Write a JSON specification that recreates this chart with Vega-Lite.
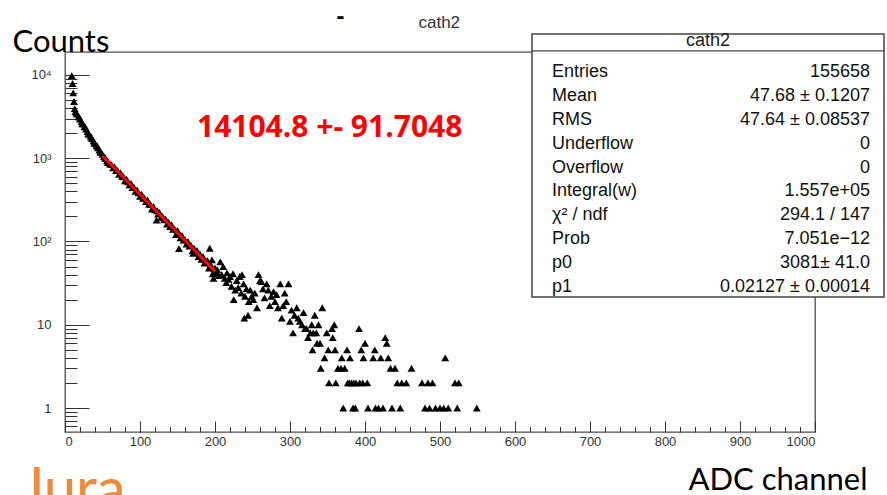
{
  "$schema": "https://vega.github.io/schema/vega-lite/v6.json",
  "width": 750,
  "height": 380,
  "autosize": {"type": "none"},
  "padding": {"left": 65, "top": 52, "right": 72, "bottom": 63},
  "background": "white",
  "config": {"font": "Liberation Sans", "view": {"stroke": "#4d4d4d", "strokeWidth": 1.3}},
  "datasets": {
    "h": [
      {"x":9,"y":9800},{"x":10,"y":7900},{"x":11,"y":6100},{"x":12,"y":4800},{"x":13,"y":3950},{"x":14,"y":3650},{"x":15,"y":3500},
      {"x":16,"y":3390},{"x":18,"y":3160},{"x":19,"y":3120},{"x":20,"y":2950},{"x":22,"y":2750},{"x":23,"y":2600},{"x":24,"y":2570},{"x":26,"y":2400},
      {"x":27,"y":2380},{"x":28,"y":2240},{"x":30,"y":2090},{"x":31,"y":1960},{"x":32,"y":1950},{"x":34,"y":1840},{"x":35,"y":1800},{"x":36,"y":1720},
      {"x":38,"y":1620},{"x":39,"y":1530},{"x":40,"y":1510},{"x":42,"y":1430},{"x":43,"y":1400},{"x":44,"y":1330},{"x":46,"y":1260},{"x":47,"y":1190},
      {"x":48,"y":1175},{"x":50,"y":1110},{"x":52,"y":1047},{"x":53,"y":1030},{"x":54,"y":990},{"x":56,"y":933},{"x":57,"y":895},{"x":58,"y":891},{"x":60,"y":851},
      {"x":62,"y":840},{"x":64,"y":766},{"x":66,"y":787},{"x":68,"y":711},{"x":70,"y":716},{"x":72,"y":639},{"x":74,"y":671},{"x":76,"y":606},
      {"x":78,"y":599},{"x":80,"y":534},{"x":82,"y":561},{"x":84,"y":521},{"x":86,"y":480},{"x":88,"y":498},{"x":90,"y":445},{"x":92,"y":448},
      {"x":94,"y":400},{"x":96,"y":416},{"x":98,"y":383},{"x":100,"y":349},{"x":102,"y":370},{"x":104,"y":330},{"x":106,"y":333},{"x":108,"y":301},
      {"x":110,"y":315},{"x":112,"y":282},{"x":114,"y":278},{"x":116,"y":245},{"x":118,"y":263},{"x":120,"y":240},{"x":122,"y":181},{"x":123,"y":234},
      {"x":124,"y":213},{"x":126,"y":224},{"x":128,"y":194},{"x":130,"y":200},{"x":132,"y":182},{"x":134,"y":187},{"x":136,"y":162},{"x":138,"y":171},
      {"x":140,"y":151},{"x":142,"y":159},{"x":144,"y":140},{"x":146,"y":142},{"x":148,"y":121},{"x":150,"y":136},{"x":152,"y":82},{"x":153,"y":121},
      {"x":154,"y":111},{"x":156,"y":118},{"x":158,"y":104},{"x":160,"y":105},{"x":162,"y":93},{"x":164,"y":100},{"x":166,"y":88},{"x":168,"y":90},
      {"x":170,"y":77},{"x":171,"y":72},{"x":172,"y":83},{"x":174,"y":74},{"x":176,"y":78},{"x":178,"y":66},{"x":180,"y":71},{"x":182,"y":61},
      {"x":184,"y":66},{"x":186,"y":55},{"x":188,"y":58},{"x":190,"y":59},{"x":192,"y":48},{"x":193,"y":83},{"x":194,"y":53},{"x":196,"y":60},
      {"x":197,"y":41},{"x":198,"y":36},{"x":199,"y":47},
      {"x":200,"y":48},{"x":201,"y":42},{"x":203,"y":46},{"x":205,"y":39},{"x":207,"y":57},{"x":209,"y":40},{"x":211,"y":50},{"x":213,"y":36},
      {"x":215,"y":32},{"x":216,"y":42},{"x":218,"y":35},{"x":220,"y":38},{"x":222,"y":29},{"x":224,"y":41},{"x":225,"y":20},{"x":227,"y":26},
      {"x":229,"y":34},{"x":231,"y":28},{"x":233,"y":38},{"x":235,"y":24},{"x":236,"y":40},{"x":238,"y":31},{"x":239,"y":12},{"x":240,"y":22},
      {"x":242,"y":27},{"x":244,"y":13},{"x":245,"y":19},{"x":247,"y":26},{"x":249,"y":22},{"x":251,"y":20},{"x":253,"y":24},{"x":256,"y":16},
      {"x":258,"y":40},{"x":260,"y":34},{"x":262,"y":33},{"x":264,"y":27},{"x":266,"y":21},{"x":269,"y":31},{"x":271,"y":26},{"x":273,"y":17},
      {"x":275,"y":22},{"x":278,"y":25},{"x":280,"y":19},{"x":282,"y":23},{"x":284,"y":16},{"x":287,"y":31},{"x":289,"y":12},{"x":291,"y":17},
      {"x":293,"y":24},{"x":295,"y":19},{"x":298,"y":31},{"x":300,"y":11},{"x":302,"y":15},{"x":304,"y":8},{"x":306,"y":13},{"x":309,"y":16},
      {"x":311,"y":12},{"x":313,"y":11},{"x":316,"y":10},{"x":318,"y":14},{"x":320,"y":9},{"x":322,"y":9},{"x":324,"y":7},{"x":327,"y":8},
      {"x":329,"y":10},{"x":330,"y":5},{"x":331,"y":8},{"x":333,"y":13},{"x":335,"y":8},{"x":336,"y":6},{"x":338,"y":10},{"x":340,"y":6},
      {"x":341,"y":3},{"x":343,"y":16},{"x":346,"y":4},{"x":349,"y":8},{"x":351,"y":5},{"x":352,"y":2},{"x":356,"y":9},{"x":357,"y":7},
      {"x":359,"y":10},{"x":360,"y":5},{"x":361,"y":2},{"x":364,"y":3},{"x":368,"y":3},{"x":369,"y":4},{"x":371,"y":1},{"x":373,"y":3},
      {"x":376,"y":5},{"x":377,"y":2},{"x":379,"y":2},{"x":380,"y":4},{"x":382,"y":2},{"x":384,"y":1},{"x":385,"y":2},{"x":387,"y":1},
      {"x":388,"y":2},{"x":392,"y":9},{"x":393,"y":2},{"x":395,"y":5},{"x":397,"y":2},{"x":398,"y":4},{"x":400,"y":6},{"x":403,"y":2},
      {"x":404,"y":1},{"x":411,"y":4},{"x":413,"y":5},{"x":414,"y":1},{"x":418,"y":1},{"x":421,"y":4},{"x":424,"y":1},{"x":427,"y":7},
      {"x":429,"y":6},{"x":431,"y":4},{"x":434,"y":3},{"x":436,"y":1},{"x":440,"y":3},{"x":443,"y":2},{"x":447,"y":1},{"x":449,"y":2},
      {"x":455,"y":2},{"x":462,"y":3},{"x":476,"y":2},{"x":480,"y":1},{"x":484,"y":2},{"x":486,"y":1},{"x":490,"y":2},{"x":494,"y":1},
      {"x":500,"y":1},{"x":505,"y":1},{"x":507,"y":4},{"x":511,"y":1},{"x":520,"y":2},{"x":523,"y":1},{"x":525,"y":2},{"x":549,"y":1}
    ],
    "fit": [{"x": 50, "y": 1063.9}, {"x": 200, "y": 43.76}]
  },
  "resolve": {"axis": {"x": "independent", "y": "independent"}},
  "layer": [
    {
      "data": {"name": "h"},
      "mark": {"type": "point", "shape": "triangle-up", "filled": true, "size": 62, "color": "#000", "opacity": 1},
      "encoding": {
        "x": {"field": "x", "type": "quantitative",
          "scale": {"domain": [0, 1000], "nice": false, "zero": false},
          "axis": {"orient": "bottom", "values": [0,100,200,300,400,500,600,700,800,900,1000], "format": "d",
            "domain": false, "grid": false, "tickSize": -11, "tickColor": "#333", "labelPadding": 14,
            "labelFont": "Liberation Sans", "labelFontSize": 13, "labelColor": "#333",
            "title": "ADC channel", "titleX": 623, "titleY": 57, "titleAlign": "left", "titleBaseline": "alphabetic",
            "titleFont": "Lato", "titleFontSize": 31, "titleFontWeight": "normal", "titleColor": "#000"}},
        "y": {"field": "y", "type": "quantitative",
          "scale": {"type": "log", "domain": [0.515, 18880], "nice": false},
          "axis": {"orient": "left", "values": [1, 10, 100, 1000, 10000],
            "labelExpr": "datum.value == 10000 ? '10⁴' : datum.value == 1000 ? '10³' : datum.value == 100 ? '10²' : datum.value == 10 ? '10' : '1'",
            "domain": false, "grid": false, "tickSize": -24, "tickColor": "#333", "labelPadding": 38, "labelBaseline": "middle",
            "labelFont": "Liberation Sans", "labelFontSize": 13, "labelColor": "#333",
            "title": "Counts", "titleAngle": 0, "titleX": -53, "titleY": -1, "titleAlign": "left", "titleBaseline": "alphabetic",
            "titleFont": "Lato", "titleFontSize": 31, "titleFontWeight": "normal", "titleColor": "#000"}}
      }
    },
    {
      "data": {"name": "fit"},
      "mark": {"type": "line", "color": "#ff0000", "strokeWidth": 3},
      "encoding": {
        "x": {"field": "x", "type": "quantitative",
          "axis": {"orient": "bottom", "values": [20,40,60,80,120,140,160,180,220,240,260,280,320,340,360,380,420,440,460,480,520,540,560,580,620,640,660,680,720,740,760,780,820,840,860,880,920,940,960,980],
            "labels": false, "domain": false, "grid": false, "tickSize": -5.5, "tickColor": "#333", "title": null}},
        "y": {"field": "y", "type": "quantitative",
          "axis": {"orient": "left", "values": [0.6,0.7,0.8,0.9,2,3,4,5,6,7,8,9,20,30,40,50,60,70,80,90,200,300,400,500,600,700,800,900,2000,3000,4000,5000,6000,7000,8000,9000],
            "labels": false, "domain": false, "grid": false, "tickSize": -12, "tickColor": "#333", "title": null}}
      }
    },
    {
      "data": {"values": [{}]},
      "mark": {"type": "rect", "fill": "white", "stroke": "#444", "strokeWidth": 1.5},
      "encoding": {
        "x": {"datum": 622.7, "type": "quantitative", "axis": null},
        "x2": {"datum": 1092},
        "y": {"datum": 31080, "type": "quantitative", "axis": null},
        "y2": {"datum": 21.54}
      }
    },
    {
      "data": {"values": [{}]},
      "mark": {"type": "rule", "stroke": "#444", "strokeWidth": 1.3},
      "encoding": {
        "x": {"datum": 622.7, "type": "quantitative", "axis": null},
        "x2": {"datum": 1092},
        "y": {"datum": 19427, "type": "quantitative", "axis": null}
      }
    },
    {
      "data": {"values": [{}]},
      "mark": {"type": "text", "text": "cath2", "font": "Liberation Sans", "fontSize": 18, "color": "#222", "align": "center", "baseline": "alphabetic"},
      "encoding": {
        "x": {"datum": 857.3, "type": "quantitative", "axis": null},
        "y": {"datum": 22300, "type": "quantitative", "axis": null}
      }
    },
    {
      "data": {"values": [{}]},
      "mark": {"type": "text", "text": ["Entries", "Mean", "RMS", "Underflow", "Overflow", "Integral(w)", "χ² / ndf", "Prob", "p0", "p1"],
        "font": "Liberation Sans", "fontSize": 18, "color": "#111", "align": "left", "baseline": "alphabetic", "lineHeight": 23.9},
      "encoding": {
        "x": {"datum": 649.3, "type": "quantitative", "axis": null},
        "y": {"datum": 9462, "type": "quantitative", "axis": null}
      }
    },
    {
      "data": {"values": [{}]},
      "mark": {"type": "text", "text": ["155658", "47.68 ± 0.1207", "47.64 ± 0.08537", "0", "0", "1.557e+05", "294.1 / 147", "7.051e−12", "3081± 41.0", "0.02127 ± 0.00014"],
        "font": "Liberation Sans", "fontSize": 18, "color": "#111", "align": "right", "baseline": "alphabetic", "lineHeight": 23.9},
      "encoding": {
        "x": {"datum": 1073.3, "type": "quantitative", "axis": null},
        "y": {"datum": 9462, "type": "quantitative", "axis": null}
      }
    },
    {
      "data": {"values": [{}]},
      "mark": {"type": "text", "text": "cath2", "font": "Liberation Sans", "fontSize": 17, "color": "#333", "align": "center", "baseline": "alphabetic"},
      "encoding": {
        "x": {"datum": 499, "type": "quantitative", "axis": null},
        "y": {"datum": 36700, "type": "quantitative", "axis": null}
      }
    },
    {
      "data": {"values": [{}]},
      "mark": {"type": "text", "text": "-", "font": "DejaVu Sans", "fontWeight": "bold", "fontSize": 20, "color": "#000", "align": "center", "baseline": "middle"},
      "encoding": {
        "x": {"datum": 367.3, "type": "quantitative", "axis": null},
        "y": {"datum": 50000, "type": "quantitative", "axis": null}
      }
    },
    {
      "data": {"values": [{}]},
      "mark": {"type": "text", "text": "14104.8 +- 91.7048", "font": "Open Sans", "fontWeight": "bold", "fontSize": 30, "color": "#ff0000", "align": "left", "baseline": "alphabetic"},
      "encoding": {
        "x": {"datum": 176, "type": "quantitative", "axis": null},
        "y": {"datum": 1800, "type": "quantitative", "axis": null}
      }
    },
    {
      "data": {"values": [{}]},
      "mark": {"type": "text", "text": "Jura", "font": "Lato", "fontSize": 58, "color": "#f08a3c", "align": "left", "baseline": "alphabetic"},
      "encoding": {
        "x": {"datum": -60, "type": "quantitative", "axis": null},
        "y": {"datum": 0.0612, "type": "quantitative", "axis": null}
      }
    }
  ]
}
